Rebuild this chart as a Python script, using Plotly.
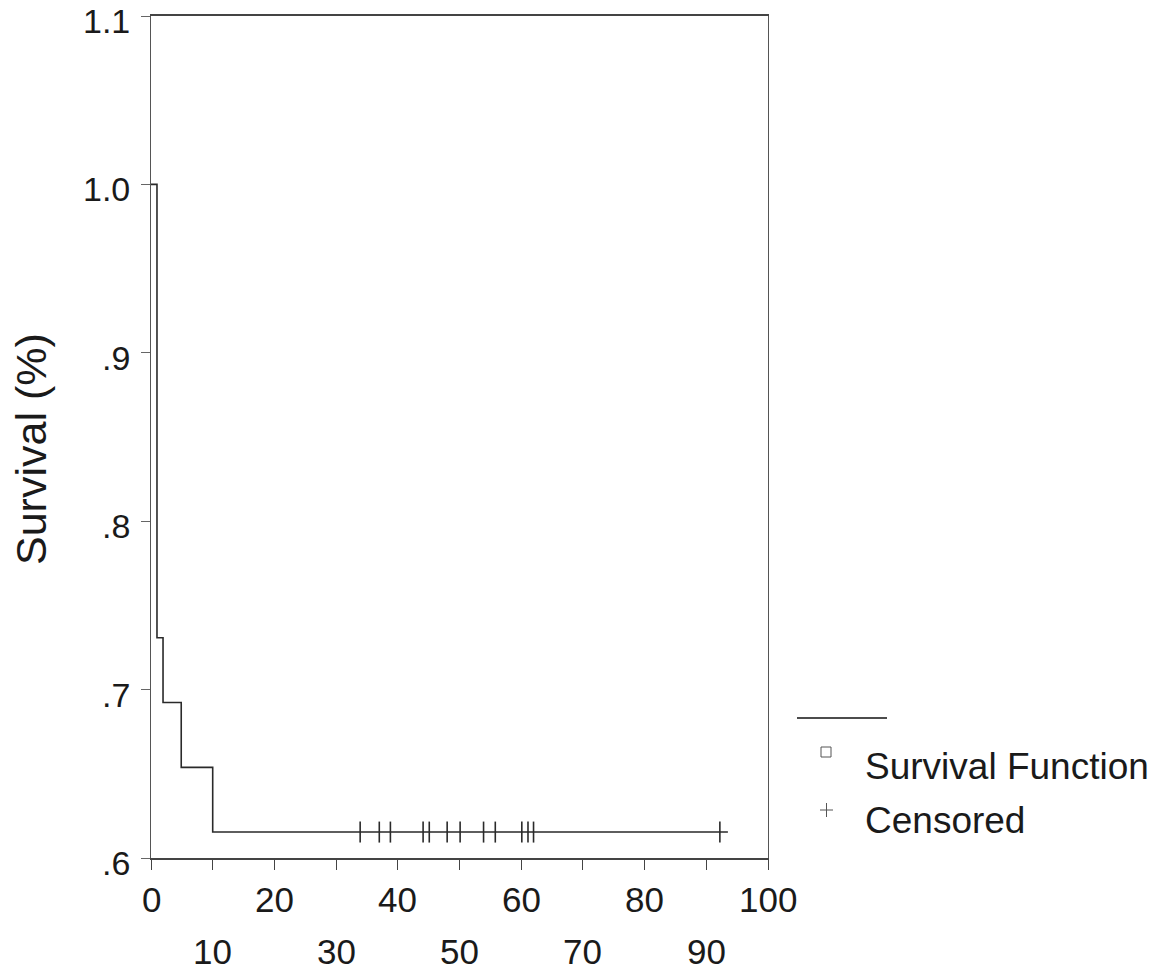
import plotly.graph_objects as go

# --- data ---
step_times = [0, 0.97, 1.95, 4.9, 10.0, 93.5]
step_surv = [1.0, 0.7308, 0.6923, 0.6538, 0.6154, 0.6154]
censor_times = [33.9, 37.0, 38.8, 44.1, 45.1, 48.0, 50.1, 53.9, 55.8, 60.1, 61.1, 62.0, 92.2]
censor_surv = [0.6154] * len(censor_times)
x_ticks = [0, 10, 20, 30, 40, 50, 60, 70, 80, 90, 100]
x_tick_labels = ["0", "10", "20", "30", "40", "50", "60", "70", "80", "90", "100"]
y_ticks = [0.6, 0.7, 0.8, 0.9, 1.0, 1.1]
y_tick_labels = [".6", ".7", ".8", ".9", "1.0", "1.1"]

# page body has an 8px default margin; compensate so the picture lines up
OFF = 8
W, H = 1168 - OFF, 970 - OFF
PL, PT, PR, PB = 151, 16, 768, 858  # plot-area edges in window pixels
L, T = PL - OFF, PT - OFF
PW, PH = PR - PL, PB - PT
R, B = W - L - PW, H - T - PH
FONT = "Liberation Sans, Arial, sans-serif"


def px(x):
    return (x - PL) / PW


def py(y):
    return (PB - y) / PH


fig = go.Figure()
fig.add_trace(go.Scatter(x=step_times, y=step_surv, mode="lines",
                         line=dict(shape="hv", color="#2a2a2a", width=1.6),
                         showlegend=False, hoverinfo="skip", cliponaxis=False))
fig.add_trace(go.Scatter(x=censor_times, y=censor_surv, mode="markers",
                         marker=dict(symbol="line-ns", size=15,
                                     line=dict(color="#2a2a2a", width=1.6)),
                         showlegend=False, hoverinfo="skip"))

annotations = []
for i, (v, t) in enumerate(zip(x_ticks, x_tick_labels)):
    annotations.append(dict(x=v, y=0, xref="x", yref="paper", text=t,
                            showarrow=False, xanchor="center", yanchor="middle",
                            yshift=-41 if i % 2 == 0 else -93,
                            font=dict(family=FONT, size=35, color="#1a1a1a")))
for v, t in zip(y_ticks, y_tick_labels):
    annotations.append(dict(x=0, y=v, xref="paper", yref="y", text=t,
                            showarrow=False, xanchor="right", yanchor="middle",
                            xshift=-19, yshift=-5,
                            font=dict(family=FONT, size=34, color="#1a1a1a")))

annotations.append(dict(x=px(31), y=py(449), xref="paper", yref="paper",
                        text="Survival (%)", textangle=-90, showarrow=False,
                        xanchor="center", yanchor="middle",
                        font=dict(family=FONT, size=43, color="#1a1a1a")))
annotations.append(dict(x=px(863), y=py(766), xref="paper", yref="paper",
                        text="Survival Function", showarrow=False,
                        xanchor="left", yanchor="middle",
                        font=dict(family=FONT, size=37, color="#1a1a1a")))
annotations.append(dict(x=px(863), y=py(820), xref="paper", yref="paper",
                        text="Censored", showarrow=False,
                        xanchor="left", yanchor="middle",
                        font=dict(family=FONT, size=37, color="#1a1a1a")))

shapes = [
    dict(type="line", xref="paper", yref="paper", x0=px(797), x1=px(887),
         y0=py(718), y1=py(718), line=dict(color="#111", width=1.5)),
    dict(type="rect", xref="paper", yref="paper", x0=px(821), x1=px(831),
         y0=py(747), y1=py(757), line=dict(color="#555", width=1)),
    dict(type="line", xref="paper", yref="paper", x0=px(820), x1=px(833),
         y0=py(810), y1=py(810), line=dict(color="#555", width=1)),
    dict(type="line", xref="paper", yref="paper", x0=px(826.5), x1=px(826.5),
         y0=py(803), y1=py(817), line=dict(color="#555", width=1)),
]

fig.update_layout(
    width=W, height=H,
    margin=dict(l=L, r=R, t=T, b=B, pad=0, autoexpand=False),
    plot_bgcolor="white", paper_bgcolor="white",
    showlegend=False,
    annotations=annotations,
    shapes=shapes,
    xaxis=dict(range=[0, 100], tickvals=x_ticks, showticklabels=False,
               automargin=False,
               ticks="outside", ticklen=10, tickwidth=1.2, tickcolor="#444",
               showline=True, linecolor="#444", linewidth=1.5, mirror=True,
               showgrid=False, zeroline=False),
    yaxis=dict(range=[0.6, 1.1], tickvals=y_ticks, showticklabels=False,
               automargin=False,
               ticks="outside", ticklen=9, tickwidth=1.2, tickcolor="#666",
               showline=True, linecolor="#555", linewidth=1.3, mirror=True,
               showgrid=False, zeroline=False),
)

fig.write_html("out.html")
